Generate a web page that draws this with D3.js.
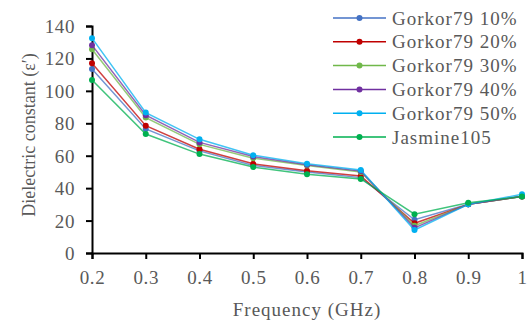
<!DOCTYPE html>
<html>
<head>
<meta charset="utf-8">
<script src="https://cdn.jsdelivr.net/npm/d3@7"></script>
<style>
  body { margin: 0; background: #fff; }
  text { font-family: "Liberation Serif", "Times New Roman", serif; fill: #595959; }
</style>
</head>
<body>
<svg class="chart" width="529" height="320"></svg>
<script>
var svg = d3.select('svg.chart');

// data
var frequency = [0.2, 0.3, 0.4, 0.5, 0.6, 0.7, 0.8, 0.9, 1.0];
var gorkor10 = [113.5, 76.5, 63, 54, 50, 46.5, 20.5, 30, 34.8];
var gorkor20 = [117, 78.5, 64, 55, 50.8, 47.5, 18.3, 30, 34.8];
var gorkor30 = [125.7, 83.5, 67, 58.5, 54, 50, 16.8, 30, 34.8];
var gorkor40 = [128.2, 85, 68.2, 59.5, 54.5, 50.5, 15.5, 30, 35];
var gorkor50 = [132.5, 86.6, 70.1, 60.3, 55, 51.2, 14.2, 30, 36.2];
var jasmine105 = [106.7, 73.4, 61, 53, 48.5, 45.7, 23.9, 31, 34.8];

var seriesNames = ['Gorkor79 10%', 'Gorkor79 20%', 'Gorkor79 30%', 'Gorkor79 40%', 'Gorkor79 50%', 'Jasmine105'];
var seriesValues = [gorkor10, gorkor20, gorkor30, gorkor40, gorkor50, jasmine105];
var colors = ['#4472c4', '#c00000', '#70b84a', '#7030a0', '#00b0f0', '#00b050'];

var xTicks = [0.2, 0.3, 0.4, 0.5, 0.6, 0.7, 0.8, 0.9, 1];
var yTicks = [0, 20, 40, 60, 80, 100, 120, 140];

var margin = {left: 92, top: 26, right: 7, bottom: 67};
var width = +svg.attr('width');
var height = +svg.attr('height');

var x = d3.scaleLinear().domain([0.2, 1]).range([margin.left, width - margin.right]);
var y = d3.scaleLinear().domain([0, 140]).range([height - margin.bottom, margin.top]);

var xAxis = svg.append('g')
    .attr('transform', 'translate(0,' + y(0) + ')')
    .call(d3.axisBottom(x).tickValues(xTicks).tickSize(6).tickPadding(7)
        .tickFormat(function (d) { return d === 1 ? '1' : d3.format('.1f')(d); }));

var yAxis = svg.append('g')
    .attr('transform', 'translate(' + x(0.2) + ',0)')
    .call(d3.axisLeft(y).tickValues(yTicks).tickSize(6).tickPadding(11));

svg.selectAll('.domain').attr('stroke', '#000').attr('stroke-width', 2);
svg.selectAll('.tick line').attr('stroke', '#000').attr('stroke-width', 2);
svg.selectAll('.tick text')
    .style('font-size', '19px')
    .style('letter-spacing', '0.6px')
    .attr('fill', '#595959');
xAxis.selectAll('.tick text').attr('dy', '0.95em');
yAxis.selectAll('.tick text').attr('dy', '0.34em');

var line = d3.line()
    .x(function (d, i) { return x(frequency[i]); })
    .y(function (d) { return y(d); });

seriesValues.forEach(function (vals, k) {
    var g = svg.append('g');
    g.append('path')
        .datum(vals)
        .attr('fill', 'none')
        .attr('stroke', colors[k])
        .attr('stroke-opacity', 0.75)
        .attr('stroke-width', 1.5)
        .attr('d', line);
    g.selectAll('circle')
        .data(vals)
        .enter()
        .append('circle')
        .attr('cx', function (d, i) { return x(frequency[i]); })
        .attr('cy', function (d) { return y(d); })
        .attr('r', 3)
        .attr('fill', colors[k]);
});

// axis titles
svg.append('text')
    .attr('x', (x(0.2) + x(1)) / 2)
    .attr('y', 316)
    .attr('text-anchor', 'middle')
    .style('font-size', '19px')
    .style('letter-spacing', '1px')
    .text('Frequency (GHz)');

svg.append('text')
    .attr('transform', 'translate(29,135) rotate(-90)')
    .attr('text-anchor', 'middle')
    .attr('dy', '0.35em')
    .style('font-size', '18px')
    .text('Dielectric constant (\u03b5\u2032)');

// legend
var legend = svg.append('g');
seriesNames.forEach(function (name, k) {
    var ly = 18 + k * 23.8;
    legend.append('line')
        .attr('x1', 333).attr('x2', 386)
        .attr('y1', ly).attr('y2', ly)
        .attr('stroke', colors[k])
        .attr('stroke-width', 1.5);
    legend.append('circle')
        .attr('cx', 359.5).attr('cy', ly)
        .attr('r', 3)
        .attr('fill', colors[k]);
    legend.append('text')
        .attr('x', 392).attr('y', ly)
        .attr('dy', '0.35em')
        .style('font-size', '19px')
        .style('letter-spacing', '1px')
        .text(name);
});
</script>
</body>
</html>
